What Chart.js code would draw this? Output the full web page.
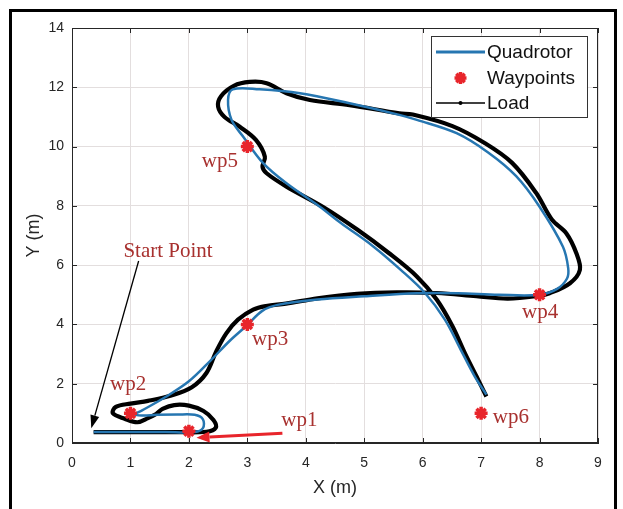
<!DOCTYPE html>
<html><head><meta charset="utf-8">
<script src="https://cdn.jsdelivr.net/npm/chart.js@4.4.1/dist/chart.umd.min.js"></script>
<style>
html,body{margin:0;padding:0;background:#fff;}
#wrap{position:relative;width:623px;height:509px;overflow:hidden;background:#fff;}
#frame{position:absolute;left:9px;top:9px;width:602px;height:540px;border:3px solid #000;pointer-events:none;}
canvas{position:absolute;left:0;top:0;}
</style></head><body>
<div id="wrap"><canvas id="c" width="623" height="509"></canvas><div id="frame"></div></div>
<script>
// ---- data (metres) ----
const quadX = [0.37,1.0,1.6,2.1,2.24,2.24,2.1,1.8,1.45,1.2,1.07,1.2,1.6,2.0,2.37,2.7,3.0,3.25,3.52,4.2,5.0,5.9,6.6,7.3,8.0,8.3,8.47,8.49,8.4,8.0,7.6,7.12,6.58,5.9,5.6,4.75,3.9,3.21,2.75,2.67,2.73,2.93,3.27,3.67,4.24,4.6,5.15,5.62,6.04,6.38,6.65,6.89,7.09];
const quadY = [0.37,0.37,0.37,0.37,0.5,0.8,0.95,0.96,0.95,0.93,0.97,1.1,1.55,2.08,2.78,3.45,3.98,4.45,4.66,4.84,4.95,5.05,5.05,5.0,5.0,5.2,5.55,5.9,6.62,7.97,9.0,9.8,10.45,10.9,11.07,11.46,11.8,11.93,11.93,11.57,10.9,10.33,9.44,8.76,7.97,7.42,6.64,5.85,5.06,4.16,3.15,2.25,1.63];
const loadX = [0.37,1.0,1.7,2.3,2.46,2.42,2.25,2.0,1.75,1.55,1.44,1.3,1.12,0.9,0.7,0.75,1.0,1.3,1.7,2.05,2.3,2.47,2.64,2.84,3.1,3.32,3.66,4.2,4.88,5.56,6.24,6.92,7.46,8.0,8.17,8.52,8.69,8.63,8.46,8.21,7.94,7.53,7.06,6.51,5.83,5.6,4.75,4.07,3.67,3.33,3.04,2.77,2.55,2.5,2.61,2.87,3.15,3.3,3.26,3.33,3.67,4.29,4.88,5.42,5.9,6.24,6.51,6.72,6.92,7.09];
const loadY = [0.37,0.37,0.37,0.38,0.52,0.78,1.08,1.26,1.28,1.15,0.98,0.84,0.7,0.82,1.0,1.22,1.33,1.42,1.6,1.88,2.36,3.1,3.7,4.16,4.5,4.62,4.7,4.88,5.03,5.08,5.06,4.95,4.87,4.97,5.05,5.39,5.84,6.4,7.07,7.54,8.44,9.45,10.12,10.69,11.08,11.12,11.4,11.57,11.8,12.14,12.18,12.05,11.7,11.35,11.0,10.67,10.22,9.66,9.32,9.1,8.65,7.97,7.2,6.41,5.62,4.84,3.94,3.04,2.25,1.57];
const wpX = [2,1,3,8,3,7];
const wpY = [0.4,1,4,5,10,1];
const xTicks = [0,1,2,3,4,5,6,7,8,9];
const yTicks = [0,2,4,6,8,10,12,14];
const noteText = ['wp1','wp2','wp3','wp4','wp5','wp6','Start Point'];
const noteX = [3.58,0.65,3.08,7.70,2.22,7.2,0.88];
const noteY = [0.57,1.79,3.31,4.21,9.32,0.66,6.27];
const arrowX0 = [1.14,3.6];
const arrowY0 = [6.14,0.33];
const arrowX1 = [0.33,2.13];
const arrowY1 = [0.5,0.18];

const BLUE = '#2676b1';
const RED = '#e8252b';
const NOTE = '#a8312f';
const AX = '#262626';

function pts(xs, ys){ return xs.map((x,i)=>({x:x, y:ys[i]})); }

function arrow(ctx, x0, y0, x1, y1, color, w, hl, hw){
  const ang = Math.atan2(y1-y0, x1-x0);
  const bx = x1 - hl*Math.cos(ang), by = y1 - hl*Math.sin(ang);
  ctx.strokeStyle = color; ctx.fillStyle = color; ctx.lineWidth = w;
  ctx.beginPath(); ctx.moveTo(x0,y0); ctx.lineTo(bx,by); ctx.stroke();
  ctx.beginPath();
  ctx.moveTo(x1,y1);
  ctx.lineTo(bx + hw*Math.sin(ang), by - hw*Math.cos(ang));
  ctx.lineTo(bx - hw*Math.sin(ang), by + hw*Math.cos(ang));
  ctx.closePath(); ctx.fill();
}

const deco = {
  id:'deco',
  afterDraw(chart){
    const {ctx, chartArea:a, scales} = chart;
    const sx = scales.x, sy = scales.y;
    ctx.save();
    // box
    ctx.strokeStyle = AX; ctx.lineWidth = 1;
    ctx.strokeRect(a.left+0.5, a.top+0.5, a.right-a.left-1, a.bottom-a.top-1);
    // inward ticks
    ctx.beginPath();
    xTicks.forEach(v=>{ const p = Math.round(sx.getPixelForValue(v))+0.5;
      ctx.moveTo(p,a.bottom); ctx.lineTo(p,a.bottom-5); ctx.moveTo(p,a.top); ctx.lineTo(p,a.top+5); });
    yTicks.forEach(v=>{ const p = Math.round(sy.getPixelForValue(v))+0.5;
      ctx.moveTo(a.left,p); ctx.lineTo(a.left+5,p); ctx.moveTo(a.right,p); ctx.lineTo(a.right-5,p); });
    ctx.stroke();
    // notes
    ctx.font = '21px "Liberation Serif", "Times New Roman", serif';
    ctx.fillStyle = NOTE; ctx.textAlign = 'left'; ctx.textBaseline = 'alphabetic';
    noteText.forEach((t,i)=> ctx.fillText(t, sx.getPixelForValue(noteX[i]), sy.getPixelForValue(noteY[i])));
    // arrows
    arrow(ctx, sx.getPixelForValue(arrowX0[0]), sy.getPixelForValue(arrowY0[0]), sx.getPixelForValue(arrowX1[0]), sy.getPixelForValue(arrowY1[0]), '#000', 1.3, 13, 4.5);
    arrow(ctx, sx.getPixelForValue(arrowX0[1]), sy.getPixelForValue(arrowY0[1]), sx.getPixelForValue(arrowX1[1]), sy.getPixelForValue(arrowY1[1]), RED, 3, 13, 5.5);
    // legend
    const L = a.right - 11, T = a.top + 8, W = 156, H = 81;
    const lx = L - W;
    ctx.fillStyle = '#fff'; ctx.fillRect(lx, T, W, H);
    ctx.strokeStyle = '#333'; ctx.lineWidth = 1; ctx.strokeRect(lx+0.5, T+0.5, W, H);
    const rows = [T+16, T+42, T+67];
    ctx.lineCap = 'butt';
    ctx.strokeStyle = BLUE; ctx.lineWidth = 3;
    ctx.beginPath(); ctx.moveTo(lx+5, rows[0]); ctx.lineTo(lx+54, rows[0]); ctx.stroke();
    ctx.strokeStyle = '#000'; ctx.lineWidth = 1.5;
    ctx.beginPath(); ctx.moveTo(lx+5, rows[2]); ctx.lineTo(lx+54, rows[2]); ctx.stroke();
    ctx.fillStyle = '#000'; ctx.beginPath(); ctx.arc(lx+29.5, rows[2], 2, 0, Math.PI*2); ctx.fill();
    // waypoint marker in legend
    ctx.strokeStyle = RED; ctx.lineWidth = 3.5;
    ctx.beginPath();
    for(let k=0;k<4;k++){ const an = k*Math.PI/4; ctx.moveTo(lx+29.5-6*Math.cos(an), rows[1]-6*Math.sin(an)); ctx.lineTo(lx+29.5+6*Math.cos(an), rows[1]+6*Math.sin(an)); }
    ctx.stroke();
    ctx.font = '19px "Liberation Sans", Arial, sans-serif'; ctx.fillStyle = '#111';
    ctx.textBaseline = 'middle';
    const names = chart.data.datasets.map(d=>d.label);
    ['Quadrotor','Waypoints','Load'].forEach((n,i)=>{ ctx.fillText(names[names.indexOf(n)], lx+56, rows[i]+1); });
    ctx.restore();
  }
};

new Chart(document.getElementById('c'), {
  type:'scatter',
  data:{ datasets:[
    {label:'Quadrotor', data:pts(quadX,quadY), showLine:true, borderColor:BLUE, borderWidth:2.5, pointRadius:0, tension:0.35, fill:false, order:2},
    {label:'Waypoints', data:pts(wpX,wpY), showLine:false, pointStyle:'star', pointRadius:6.5, borderWidth:3.5, borderColor:RED, backgroundColor:RED, order:1},
    {label:'Load', data:pts(loadX,loadY), showLine:true, borderColor:'#000', borderWidth:4.2, pointRadius:0, tension:0.35, fill:false, order:3}
  ]},
  options:{
    responsive:false, animation:false, devicePixelRatio:1,
    layout:{padding:{left:0, top:28, right:25, bottom:0}},
    plugins:{legend:{display:false}, tooltip:{enabled:false}},
    scales:{
      x:{type:'linear', min:0, max:9,
         afterBuildTicks:s=>{ s.ticks = xTicks.map(v=>({value:v})); },
         afterFit:s=>{ s.height = 66; },
         ticks:{font:{family:'"Liberation Sans", Arial, sans-serif', size:14}, color:AX, padding:12, maxRotation:0},
         grid:{color:'#e3dede', drawTicks:false},
         border:{color:AX},
         title:{display:true, text:'X (m)', font:{family:'"Liberation Sans", Arial, sans-serif', size:18}, color:AX, padding:{top:4,bottom:10}}},
      y:{type:'linear', min:0, max:14,
         afterBuildTicks:s=>{ s.ticks = yTicks.map(v=>({value:v})); },
         afterFit:s=>{ s.width = 72; },
         ticks:{font:{family:'"Liberation Sans", Arial, sans-serif', size:14}, color:AX, padding:8},
         grid:{color:'#e3dede', drawTicks:false},
         border:{color:AX},
         title:{display:true, text:'Y (m)', font:{family:'"Liberation Sans", Arial, sans-serif', size:18}, color:AX, padding:{top:23,bottom:0}}}
    }
  },
  plugins:[deco]
});
</script>
</body></html>
